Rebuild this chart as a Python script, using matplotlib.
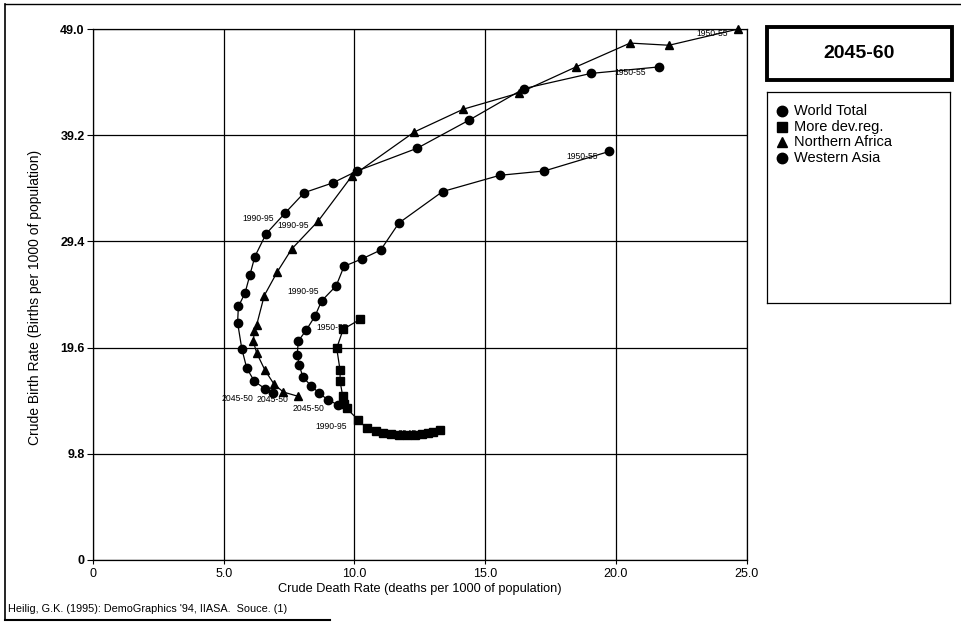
import matplotlib
matplotlib.use("Agg")
import matplotlib.pyplot as plt
from matplotlib.lines import Line2D
from matplotlib.patches import Rectangle

plt.rcParams["font.family"] = ["Liberation Sans", "DejaVu Sans"]

# crude death rate (x) / crude birth rate (y), 1950-55 ... 2045-50
world_cdr = [19.74, 17.26, 15.56, 13.37, 11.7, 11.0, 10.3, 9.6, 9.3, 8.74,
             8.49, 8.15, 7.85, 7.81, 7.89, 8.02, 8.33, 8.65, 8.97, 9.38]
world_cbr = [37.7, 35.9, 35.5, 34.0, 31.1, 28.6, 27.8, 27.1, 25.3, 23.9,
             22.5, 21.2, 20.2, 18.9, 18.0, 16.9, 16.1, 15.4, 14.8, 14.3]

more_dev_cdr = [10.21, 9.57, 9.32, 9.45, 9.45, 9.55, 9.6, 9.7, 10.15, 10.47,
                10.84, 11.1, 11.4, 11.7, 12.0, 12.3, 12.6, 12.8, 13.0, 13.27]
more_dev_cbr = [22.2, 21.3, 19.55, 17.5, 16.5, 15.1, 14.4, 14.0, 12.9, 12.16,
                11.9, 11.7, 11.6, 11.5, 11.5, 11.5, 11.6, 11.7, 11.8, 12.0]

n_africa_cdr = [24.68, 22.03, 20.54, 18.47, 16.3, 14.16, 12.29, 9.89, 8.62, 7.6,
                7.05, 6.55, 6.26, 6.17, 6.13, 6.26, 6.58, 6.93, 7.28, 7.85]
n_africa_cbr = [49.0, 47.5, 47.7, 45.5, 43.1, 41.6, 39.5, 35.4, 31.3, 28.7,
                26.6, 24.4, 21.7, 21.1, 20.2, 19.1, 17.5, 16.2, 15.5, 15.1]

w_asia_cdr = [21.64, 19.04, 16.48, 14.39, 12.4, 10.1, 9.17, 8.08, 7.34, 6.62,
              6.19, 6.0, 5.81, 5.56, 5.53, 5.69, 5.88, 6.17, 6.58, 6.9]
w_asia_cbr = [45.5, 44.9, 43.5, 40.6, 38.0, 35.9, 34.8, 33.9, 32.0, 30.1,
              28.0, 26.3, 24.6, 23.4, 21.9, 19.5, 17.7, 16.5, 15.8, 15.4]

series_names = ["World Total", "More dev.reg.", "Northern Africa", "Western Asia"]
x_ticks = [0, 5, 10, 15, 20, 25]
x_tick_labels = ["0", "5.0", "10.0", "15.0", "20.0", "25.0"]
y_ticks = [0, 9.8, 19.6, 29.4, 39.2, 49.0]
y_tick_labels = ["0", "9.8", "19.6", "29.4", "39.2", "49.0"]
period_index = {"1950-55": 0, "1990-95": 8, "2045-50": 19}

W, H = 961, 624
fig = plt.figure(figsize=(W / 100, H / 100), dpi=100)


def fx(px):
    return px / W


def fy(py):
    return 1 - py / H


ax = fig.add_axes([fx(93), fy(560), fx(746.7) - fx(93), fy(29) - fy(560)])
ax.set_xlim(0, 25)
ax.set_ylim(0, 49)
ax.set_xticks(x_ticks)
ax.set_xticklabels(x_tick_labels, fontsize=9)
ax.set_yticks(y_ticks)
ax.set_yticklabels(y_tick_labels, fontsize=9, fontweight="bold")
ax.tick_params(axis="y", length=4, width=0.8, pad=2)
ax.tick_params(axis="x", length=3, width=0.8, pad=3)
ax.grid(True, color="black", linewidth=0.9)
ax.set_axisbelow(True)
for s in ax.spines.values():
    s.set_linewidth(0.9)

series = [
    (world_cdr, world_cbr, "o", 6),
    (more_dev_cdr, more_dev_cbr, "s", 5.8),
    (n_africa_cdr, n_africa_cbr, "^", 5.5),
    (w_asia_cdr, w_asia_cbr, "o", 6),
]
for xs, ys, m, ms in series:
    ax.plot(xs, ys, color="black", linewidth=0.9, marker=m, markersize=ms,
            markerfacecolor="black", markeredgecolor="black", clip_on=False, zorder=3)

# period labels (offset in pixels from the point)
labels = [
    (n_africa_cdr, n_africa_cbr, "1950-55", (-10, -4)),
    (w_asia_cdr, w_asia_cbr, "1950-55", (-13, -6)),
    (world_cdr, world_cbr, "1950-55", (-11, -5)),
    (more_dev_cdr, more_dev_cbr, "1950-55", (-12, -8)),
    (w_asia_cdr, w_asia_cbr, "1990-95", (-11, -5)),
    (n_africa_cdr, n_africa_cbr, "1990-95", (-10, -5)),
    (world_cdr, world_cbr, "1990-95", (-17, -6)),
    (more_dev_cdr, more_dev_cbr, "1990-95", (-12, -6)),
    (w_asia_cdr, w_asia_cbr, "2045-50", (-20, -5)),
    (n_africa_cdr, n_africa_cbr, "2045-50", (-10, -3)),
    (world_cdr, world_cbr, "2045-50", (-14, -3)),
    (more_dev_cdr, more_dev_cbr, "2045-50", (-11, -4)),
]
for xs, ys, txt, off in labels:
    i = period_index[txt]
    ax.annotate(txt, (xs[i], ys[i]), xytext=off, textcoords="offset pixels",
                ha="right", va="center", fontsize=6.2, zorder=2)

ax.set_xlabel("Crude Death Rate (deaths per 1000 of population)", fontsize=9.2, labelpad=2)
fig.text(fx(35), fy(297), "Crude Birth Rate (Births per 1000 of population)",
         rotation=90, ha="center", va="center", fontsize=10)

# title box
fig.add_artist(Rectangle((fx(767), fy(80)), fx(952) - fx(767), fy(27) - fy(80),
                         transform=fig.transFigure, fill=False, linewidth=2.8,
                         edgecolor="black"))
fig.text(fx(859), fy(53), "2045-60", ha="center", va="center",
         fontsize=14, fontweight="bold")

# legend panel
leg = fig.add_axes([fx(767), fy(303), fx(950) - fx(767), fy(92) - fy(303)])
leg.set_xlim(0, 183)
leg.set_ylim(211, 0)
leg.set_xticks([])
leg.set_yticks([])
for s in leg.spines.values():
    s.set_linewidth(0.9)
leg_markers = ["o", "s", "^", "o"]
for k, (name, m) in enumerate(zip(series_names, leg_markers)):
    yy = 19 + k * 15.5
    leg.plot([15], [yy], marker=m, markersize=7.5, color="black", linestyle="none")
    leg.text(27, yy, name, ha="left", va="center", fontsize=10.5)

fig.text(fx(8), fy(609), "Heilig, G.K. (1995): DemoGraphics '94, IIASA.  Souce. (1)",
         ha="left", va="center", fontsize=7.8)

# outer frame lines
fig.add_artist(Line2D([fx(5), fx(5)], [fy(4), fy(620)], color="black", linewidth=1.2))
fig.add_artist(Line2D([fx(5), fx(961)], [fy(4), fy(4)], color="black", linewidth=1.0))
fig.add_artist(Line2D([fx(5), fx(330)], [fy(620), fy(620)], color="black", linewidth=1.5))

fig.savefig("out.png", dpi=100)
